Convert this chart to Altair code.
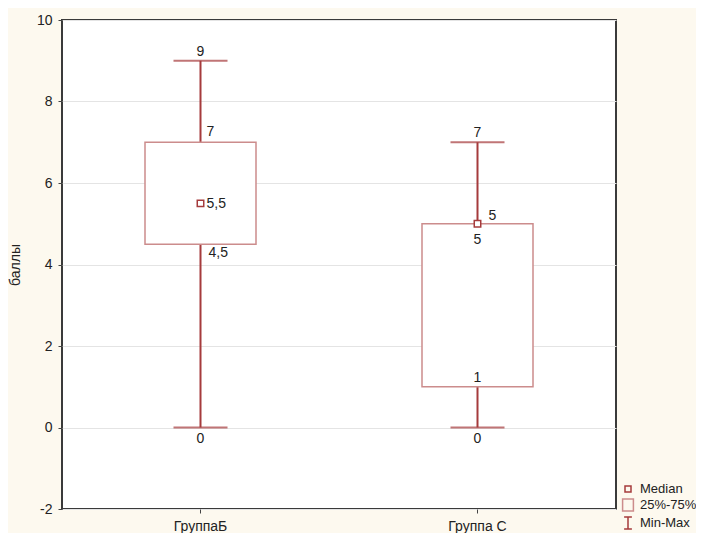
import altair as alt
import pandas as pd

categories = ["ГруппаБ", "Группа С"]
mins = [0, 0]
q1s = [4.5, 1]
medians = [5.5, 5]
q3s = [7, 5]
maxs = [9, 7]

legend_items = ["Median", "25%-75%", "Min-Max"]
y_ticks = [-2, 0, 2, 4, 6, 8, 10]


def fmt(v):
    return "{:g}".format(v).replace(".", ",")


df = pd.DataFrame({
    "cat": categories,
    "min": mins, "q1": q1s, "med": medians, "q3": q3s, "max": maxs,
})
for c in ["min", "q1", "med", "q3", "max"]:
    df[c + "_t"] = df[c].map(fmt)

leg_df = pd.DataFrame({"cat": [categories[0]] * 3, "v": [medians[0]] * 3, "item": legend_items})

DARK = "#a53b3c"
LIGHT = "#cc8c8c"
FONT = "Liberation Sans"
TXT = "#222222"

x = alt.X("cat:N", sort=categories, title=None,
          scale=alt.Scale(paddingInner=0, paddingOuter=0),
          axis=alt.Axis(labelAngle=0, labelFontSize=14, labelFont=FONT, labelColor=TXT,
                        domain=False, ticks=True, tickSize=4, tickColor="#444",
                        labelPadding=6))
yscale = alt.Scale(domain=[-2, 10], nice=False)
yaxis = alt.Axis(values=y_ticks, title="баллы", titleFontSize=14, titleFont=FONT,
                 titleFontWeight="normal", titleColor=TXT, titlePadding=14,
                 labelExpr="'' + datum.value",
                 labelFontSize=14, labelFont=FONT, labelColor=TXT, labelPadding=6,
                 domain=False, tickSize=4, tickColor="#444",
                 grid=True, gridColor="#e4e4e4", gridWidth=1)

base = alt.Chart(df)

whisker = base.mark_rule(color=DARK, strokeWidth=2).encode(
    x=x, y=alt.Y("min:Q", scale=yscale, axis=yaxis), y2="max:Q")
box = base.mark_bar(fill="white", stroke=LIGHT, strokeWidth=1.5, size=111).encode(
    x=x, y="q1:Q", y2="q3:Q")
cap_lo = base.mark_tick(color=DARK, thickness=2, size=54).encode(x=x, y="min:Q")
cap_hi = base.mark_tick(color=DARK, thickness=2, size=54).encode(x=x, y="max:Q")
median = base.mark_square(size=42, fill="white", stroke=DARK, strokeWidth=1.5,
                          opacity=1).encode(x=x, y="med:Q")

tkw = dict(fontSize=14, font=FONT, color=TXT, baseline="middle")
lab_max = base.mark_text(dy=-9, align="center", **tkw).encode(x=x, y="max:Q", text="max_t:N")
lab_min = base.mark_text(dy=11, align="center", **tkw).encode(x=x, y="min:Q", text="min_t:N")

isB = alt.datum.cat == categories[0]
isC = alt.datum.cat == categories[1]
b_q3 = base.transform_filter(isB).mark_text(dx=6, dy=-10, align="left", **tkw).encode(
    x=x, y="q3:Q", text="q3_t:N")
b_med = base.transform_filter(isB).mark_text(dx=6, dy=1, align="left", **tkw).encode(
    x=x, y="med:Q", text="med_t:N")
b_q1 = base.transform_filter(isB).mark_text(dx=8, dy=9, align="left", **tkw).encode(
    x=x, y="q1:Q", text="q1_t:N")
c_med = base.transform_filter(isC).mark_text(dx=11, dy=-8, align="left", **tkw).encode(
    x=x, y="med:Q", text="med_t:N")
c_q3 = base.transform_filter(isC).mark_text(dy=16, align="center", **tkw).encode(
    x=x, y="q3:Q", text="q3_t:N")
c_q1 = base.transform_filter(isC).mark_text(dy=-9, align="center", **tkw).encode(
    x=x, y="q1:Q", text="q1_t:N")

shapes = [
    "M-0.5,-0.5H0.5V0.5H-0.5Z",
    "M-0.9,-1H0.9V1H-0.9Z",
    "M-0.65,-1H0.65M0,-1V1M-0.65,1H0.65",
]
leg = alt.Legend(title=None, orient="none", legendX=559, legendY=462,
                 symbolSize=144, symbolStrokeWidth=1.5,
                 symbolFillColor="white", symbolOpacity=1,
                 labelFontSize=13, labelFont=FONT, labelColor=TXT,
                 rowPadding=0, labelOffset=5, symbolOffset=0, padding=0)
legend_layer = alt.Chart(leg_df).mark_point(opacity=0, filled=False, strokeWidth=1.5).encode(
    x=x, y="v:Q",
    shape=alt.Shape("item:N", sort=legend_items,
                    scale=alt.Scale(domain=legend_items, range=shapes), legend=leg),
    stroke=alt.Stroke("item:N", sort=legend_items,
                      scale=alt.Scale(domain=legend_items, range=[DARK, LIGHT, DARK]),
                      legend=leg),
)

chart = alt.layer(
    whisker, box, cap_lo, cap_hi, median,
    lab_max, lab_min, b_q3, b_med, b_q1, c_med, c_q3, c_q1,
    legend_layer,
).properties(
    width=554, height=489,
    background="#fdf9ef",
    autosize=alt.AutoSizeParams(type="none"),
    padding={"left": 54, "top": 12, "right": 80, "bottom": 25},
).configure_view(
    fill="white", stroke="#3a3a3a", strokeWidth=2,
)

chart.save("out.html", embed_options={"renderer": "svg", "actions": False})
